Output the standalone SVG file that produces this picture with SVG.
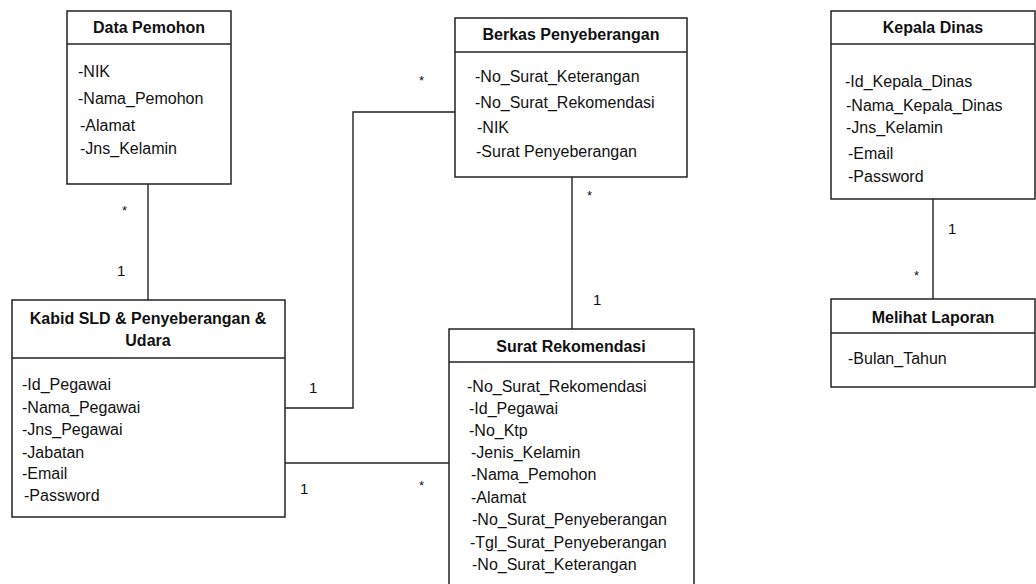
<svg xmlns="http://www.w3.org/2000/svg" width="1036" height="584" viewBox="0 0 1036 584">
<style>
.box{fill:#fff;stroke:#222;stroke-width:1.5}
.div{stroke:#222;stroke-width:1.5}
.ttl{font-family:"Liberation Sans",Arial,sans-serif;font-size:16px;font-weight:bold;fill:#111;text-anchor:middle}
.att{font-family:"Liberation Sans",Arial,sans-serif;font-size:16px;fill:#111}
.lbl{font-family:"Liberation Sans",Arial,sans-serif;font-size:15px;fill:#111}
.ast{font-family:"Liberation Sans",Arial,sans-serif;font-size:13px;fill:#111}
.con{fill:none;stroke:#222;stroke-width:1.4}
</style>
<rect width="1036" height="584" fill="#fff"/>
<g id="connectors">
<line class="con" x1="148" y1="184" x2="148" y2="300"/>
<polyline class="con" points="285,408 353,408 353,112 455,112"/>
<line class="con" x1="285" y1="463" x2="452" y2="463"/>
<line class="con" x1="572" y1="177" x2="572" y2="329"/>
<line class="con" x1="933" y1="199" x2="933" y2="299"/>
<text class="ast" x="122" y="215">*</text>
<text class="lbl" x="117" y="276">1</text>
<text class="ast" x="419" y="85">*</text>
<text class="lbl" x="309" y="393">1</text>
<text class="lbl" x="300" y="494">1</text>
<text class="ast" x="419" y="490">*</text>
<text class="ast" x="587" y="200">*</text>
<text class="lbl" x="593" y="305">1</text>
<text class="lbl" x="948" y="234">1</text>
<text class="ast" x="914" y="280">*</text>
</g>
<g id="data-pemohon">
<rect class="box" x="67" y="11" width="164" height="173"/>
<line class="div" x1="67" y1="44" x2="231" y2="44"/>
<text class="ttl" x="149" y="33">Data Pemohon</text>
<text class="att" x="78" y="77">-NIK</text>
<text class="att" x="78" y="104">-Nama_Pemohon</text>
<text class="att" x="80" y="131">-Alamat</text>
<text class="att" x="80" y="154">-Jns_Kelamin</text>
</g>
<g id="kabid">
<rect class="box" x="12" y="300" width="273" height="217"/>
<line class="div" x1="12" y1="358" x2="285" y2="358"/>
<text class="ttl" x="148" y="324">Kabid SLD &amp; Penyeberangan &amp;</text>
<text class="ttl" x="148" y="346">Udara</text>
<text class="att" x="22" y="390">-Id_Pegawai</text>
<text class="att" x="22" y="413">-Nama_Pegawai</text>
<text class="att" x="22" y="435">-Jns_Pegawai</text>
<text class="att" x="22" y="458">-Jabatan</text>
<text class="att" x="22" y="479">-Email</text>
<text class="att" x="24" y="501">-Password</text>
</g>
<g id="berkas">
<rect class="box" x="455" y="18" width="232" height="159"/>
<line class="div" x1="455" y1="52" x2="687" y2="52"/>
<text class="ttl" x="571" y="40">Berkas Penyeberangan</text>
<text class="att" x="475" y="82">-No_Surat_Keterangan</text>
<text class="att" x="475" y="108">-No_Surat_Rekomendasi</text>
<text class="att" x="477" y="133">-NIK</text>
<text class="att" x="476" y="157">-Surat Penyeberangan</text>
</g>
<g id="surat-rekomendasi">
<rect class="box" x="449" y="329" width="245" height="265"/>
<line class="div" x1="449" y1="362" x2="694" y2="362"/>
<text class="ttl" x="571" y="352">Surat Rekomendasi</text>
<text class="att" x="467" y="392">-No_Surat_Rekomendasi</text>
<text class="att" x="469" y="414">-Id_Pegawai</text>
<text class="att" x="469" y="436">-No_Ktp</text>
<text class="att" x="471" y="458">-Jenis_Kelamin</text>
<text class="att" x="471" y="480">-Nama_Pemohon</text>
<text class="att" x="471" y="503">-Alamat</text>
<text class="att" x="472" y="525">-No_Surat_Penyeberangan</text>
<text class="att" x="470" y="548">-Tgl_Surat_Penyeberangan</text>
<text class="att" x="472" y="570">-No_Surat_Keterangan</text>
</g>
<g id="kepala-dinas">
<rect class="box" x="831" y="11" width="204" height="188"/>
<line class="div" x1="831" y1="44" x2="1035" y2="44"/>
<text class="ttl" x="933" y="33">Kepala Dinas</text>
<text class="att" x="845" y="87">-Id_Kepala_Dinas</text>
<text class="att" x="846" y="111">-Nama_Kepala_Dinas</text>
<text class="att" x="846" y="133">-Jns_Kelamin</text>
<text class="att" x="848" y="159">-Email</text>
<text class="att" x="848" y="182">-Password</text>
</g>
<g id="melihat-laporan">
<rect class="box" x="831" y="299" width="204" height="88"/>
<line class="div" x1="831" y1="333" x2="1035" y2="333"/>
<text class="ttl" x="933" y="323">Melihat Laporan</text>
<text class="att" x="848" y="364">-Bulan_Tahun</text>
</g>
</svg>
